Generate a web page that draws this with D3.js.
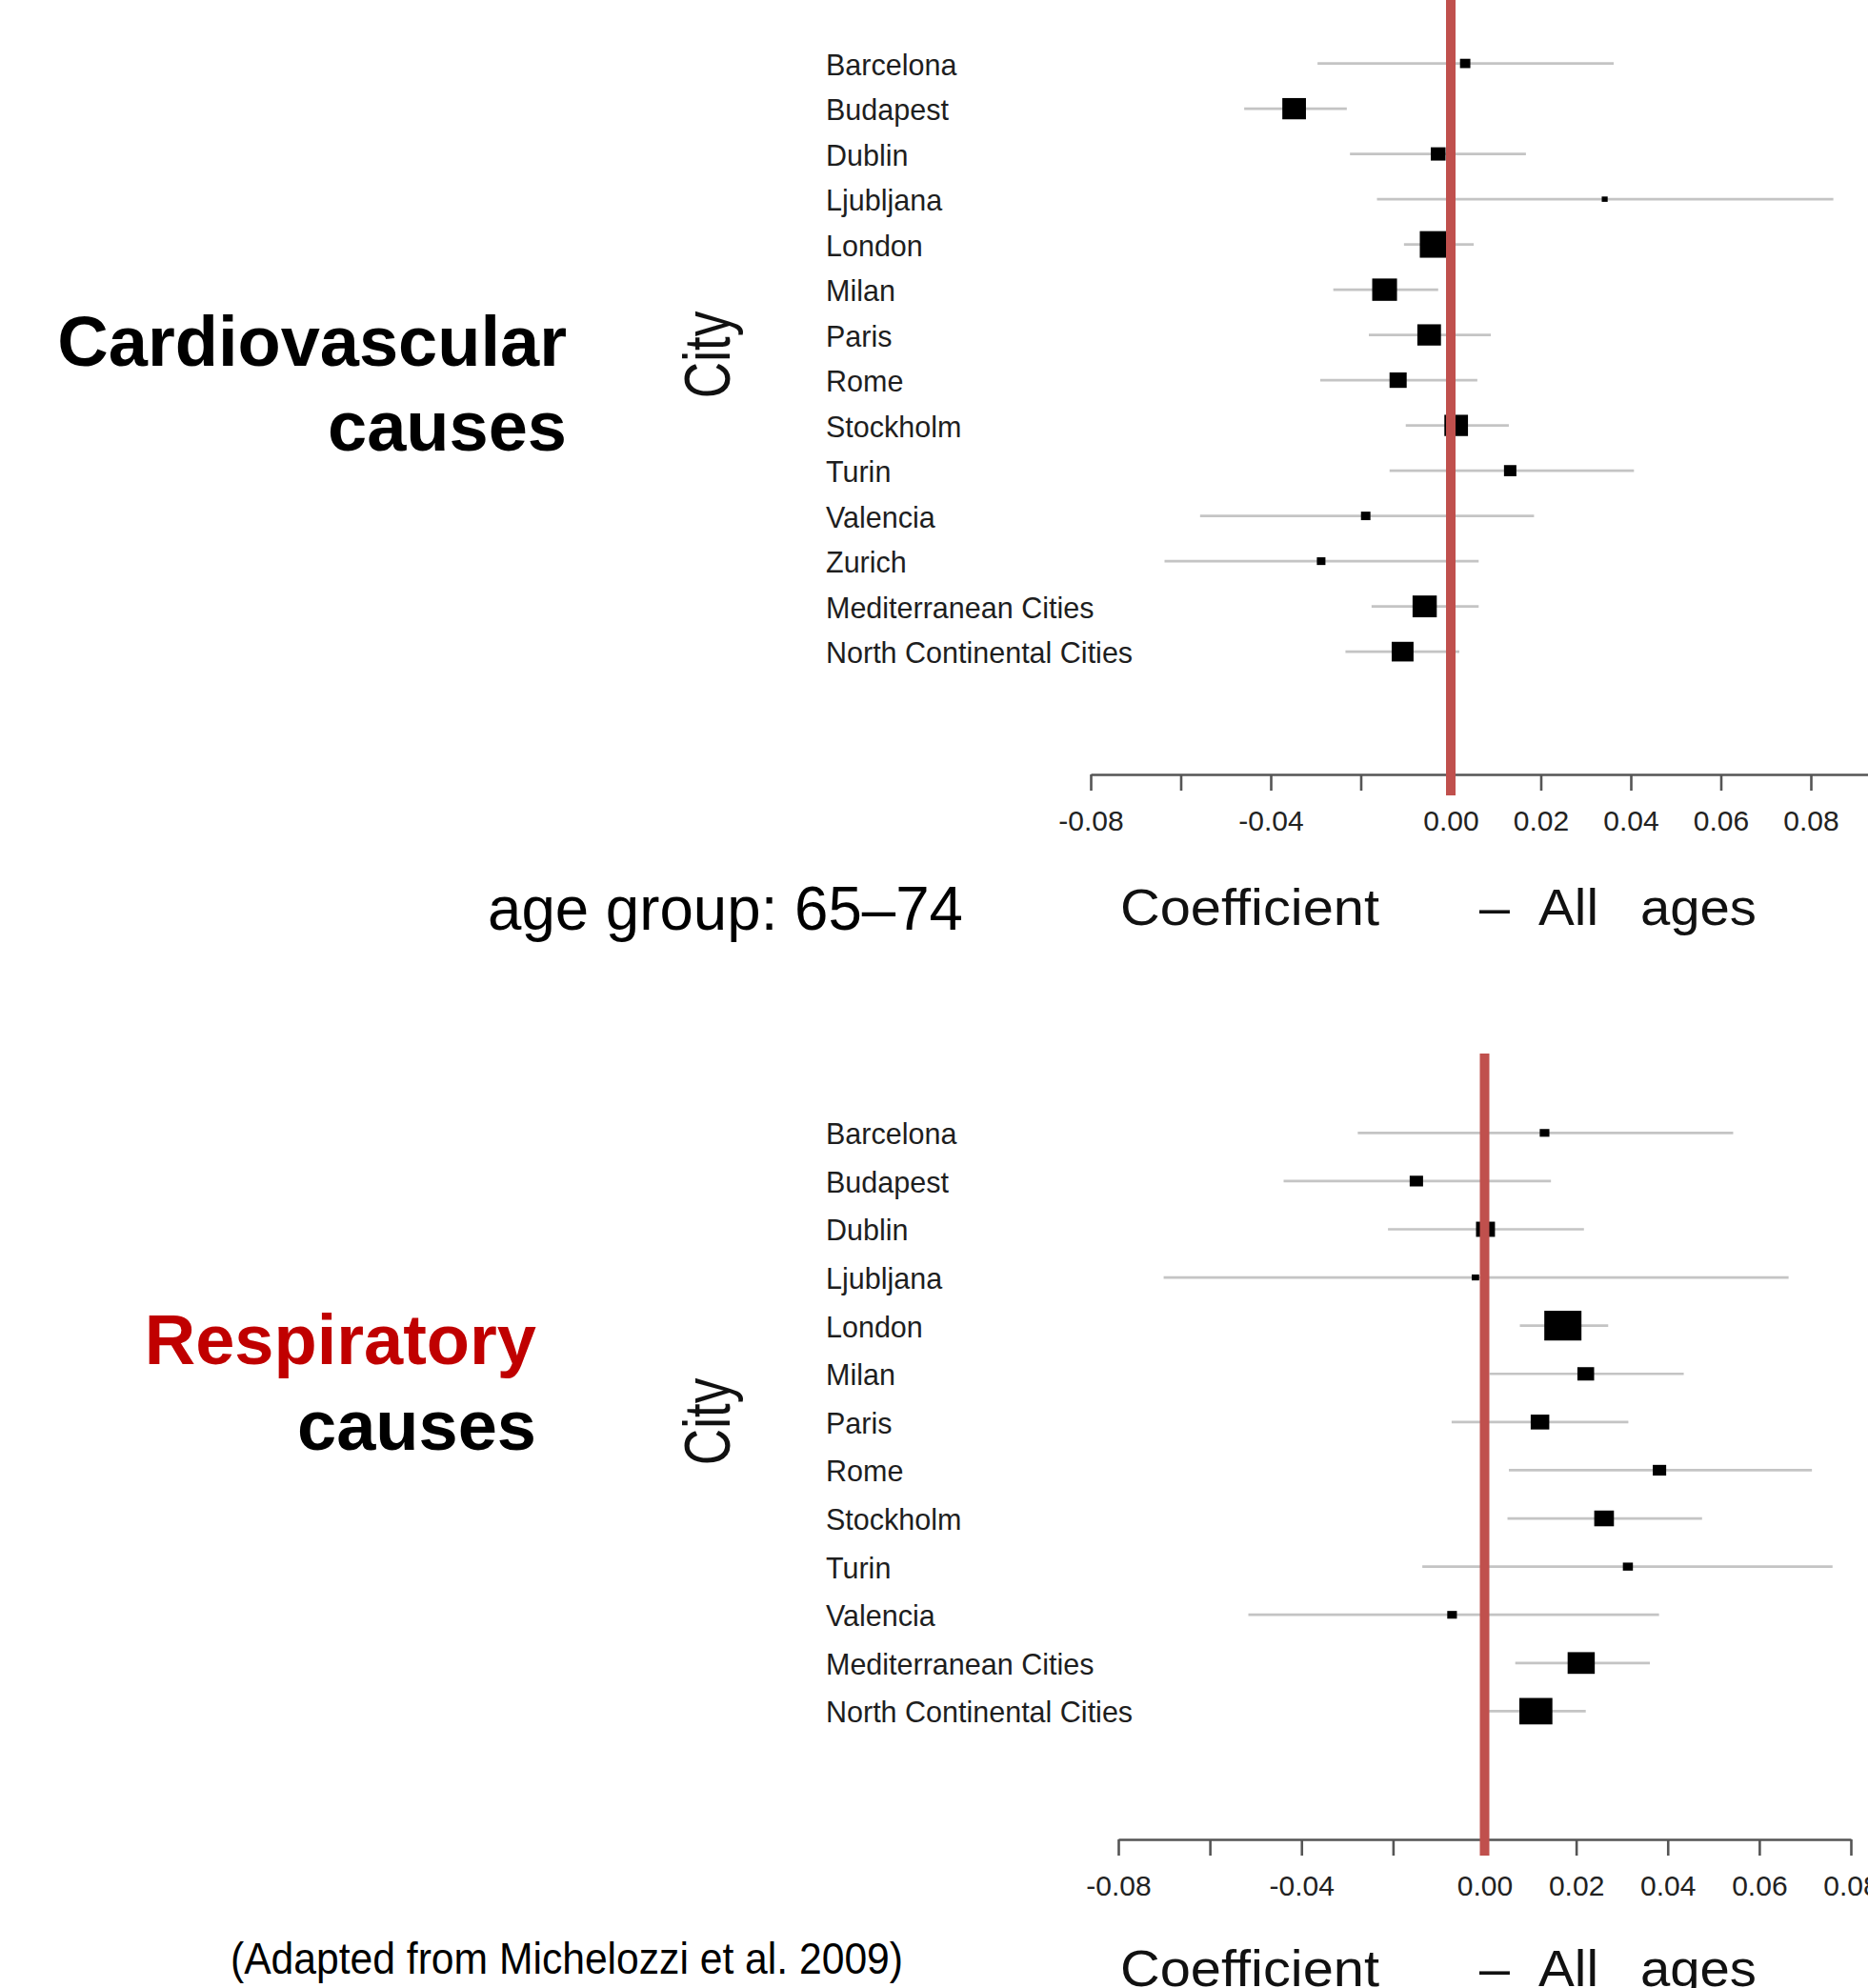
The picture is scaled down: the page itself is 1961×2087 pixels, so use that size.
<!DOCTYPE html>
<html>
<head>
<meta charset="utf-8">
<script src="https://cdn.jsdelivr.net/npm/d3@7"></script>
<style>
  html, body { margin: 0; padding: 0; background: #fff; }
  svg { display: block; }
</style>
</head>
<body>
<div id="chart"></div>
<script>
// ---- data ----
const cardioCities = ["Barcelona", "Budapest", "Dublin", "Ljubljana", "London", "Milan", "Paris",
  "Rome", "Stockholm", "Turin", "Valencia", "Zurich", "Mediterranean Cities", "North Continental Cities"];
const cardioEst = [0.0032, -0.0348, -0.0028, 0.0342, -0.0036, -0.0147, -0.0048, -0.0117, 0.0012, 0.0132, -0.0189, -0.0288, -0.0058, -0.0107];
const cardioLo  = [-0.0296, -0.0459, -0.0224, -0.0164, -0.0104, -0.0261, -0.0182, -0.0290, -0.0100, -0.0136, -0.0557, -0.0636, -0.0176, -0.0234];
const cardioHi  = [0.0362, -0.0231, 0.0167, 0.0850, 0.0051, -0.0028, 0.0089, 0.0059, 0.0129, 0.0407, 0.0185, 0.0062, 0.0062, 0.0019];
// relative weight of each city (box size), London = 100
const cardioWeight = [35, 80, 50, 20, 100, 84, 80, 58, 80, 42, 32, 29, 82, 74];

const respCities = ["Barcelona", "Budapest", "Dublin", "Ljubljana", "London", "Milan", "Paris",
  "Rome", "Stockholm", "Turin", "Valencia", "Mediterranean Cities", "North Continental Cities"];
const respEst = [0.0131, -0.0149, 0.0002, -0.0020, 0.0171, 0.0221, 0.0121, 0.0382, 0.0261, 0.0313, -0.0071, 0.0211, 0.0112];
const respLo  = [-0.0277, -0.0439, -0.0211, -0.0701, 0.0077, 0.0011, -0.0072, 0.0053, 0.0050, -0.0136, -0.0516, 0.0067, 0.0005];
const respHi  = [0.0543, 0.0145, 0.0217, 0.0664, 0.0270, 0.0435, 0.0314, 0.0715, 0.0475, 0.0760, 0.0381, 0.0361, 0.0221];
const respWeight = [26, 36, 51, 20, 100, 45, 50, 36, 53, 27, 26, 73, 89];

const tickValues = [-0.08, -0.06, -0.04, -0.02, 0, 0.02, 0.04, 0.06, 0.08];
const tickLabels = ["-0.08", "", "-0.04", "", "0.00", "0.02", "0.04", "0.06", "0.08"];
const refValue = 0;

// ---- layout ----
const W = 1961, H = 2087;
const FONT = "'Liberation Sans', Arial, Helvetica, sans-serif";

const svg = d3.select("#chart").append("svg")
    .attr("width", W).attr("height", H)
    .attr("viewBox", [0, 0, W, H]);
svg.append("rect").attr("width", W).attr("height", H).attr("fill", "#fff");

const panels = [
  {
    rows: cardioCities.map((c, i) => ({ city: c, est: cardioEst[i], lo: cardioLo[i], hi: cardioHi[i], w: cardioWeight[i] })),
    yRange: [66.6, 684.1], xDomain: [-0.08, 0.10], xRange: [1145, 1995.5],
    axisY: 813, refTop: 0, refBottom: 835, boxMax: 31, aspect: 0.9, labelDy: 12,
    title: ["Cardiovascular", "causes"], titleColor: ["#000", "#000"],
    titleX: 595, titleY: [384, 473], cityY: 372.5, xTitleY: 971
  },
  {
    rows: respCities.map((c, i) => ({ city: c, est: respEst[i], lo: respLo[i], hi: respHi[i], w: respWeight[i] })),
    yRange: [1189.3, 1796.4], xDomain: [-0.08, 0.08], xRange: [1174, 1943],
    axisY: 1931, refTop: 1106, refBottom: 1948, boxMax: 39, aspect: 0.8, labelDy: 12,
    title: ["Respiratory", "causes"], titleColor: ["#c00000", "#000"],
    titleX: 563, titleY: [1432, 1522], cityY: 1492.5, xTitleY: 2085
  }
];

panels.forEach(p => {
  const g = svg.append("g");

  const x = d3.scaleLinear().domain(p.xDomain).range(p.xRange);
  const y = d3.scalePoint().domain(p.rows.map(d => d.city)).range(p.yRange);
  const box = d3.scaleLinear().domain([0, 100]).range([0, p.boxMax]);

  // city labels
  g.selectAll("text.city").data(p.rows).join("text")
      .attr("class", "city")
      .attr("x", 867)
      .attr("y", d => y(d.city) + p.labelDy)
      .attr("font-family", FONT).attr("font-size", 30.5).attr("fill", "#1e1e1e")
      .text(d => d.city);

  // confidence intervals
  g.selectAll("line.ci").data(p.rows).join("line")
      .attr("class", "ci")
      .attr("x1", d => x(d.lo)).attr("x2", d => x(d.hi))
      .attr("y1", d => y(d.city)).attr("y2", d => y(d.city))
      .attr("stroke", "#c4c4c4").attr("stroke-width", 2.7);

  // point estimates, box size ~ weight
  g.selectAll("rect.est").data(p.rows).join("rect")
      .attr("class", "est")
      .attr("x", d => x(d.est) - box(d.w) / 2)
      .attr("y", d => y(d.city) - box(d.w) * p.aspect / 2)
      .attr("width", d => box(d.w))
      .attr("height", d => box(d.w) * p.aspect)
      .attr("fill", "#000");

  // x axis
  const axis = d3.axisBottom(x)
      .tickValues(tickValues)
      .tickFormat((d, i) => tickLabels[i])
      .tickSize(17).tickSizeOuter(0).tickPadding(21);
  const ax = g.append("g").attr("transform", `translate(0,${p.axisY})`).call(axis);
  ax.attr("font-family", FONT).attr("font-size", 30);
  ax.select(".domain").attr("stroke", "#555").attr("stroke-width", 2.6);
  ax.selectAll(".tick line").attr("stroke", "#555").attr("stroke-width", 2.6);
  ax.selectAll(".tick text").attr("fill", "#222");

  // reference line at zero (drawn over the boxes)
  g.append("line")
      .attr("x1", x(refValue)).attr("x2", x(refValue))
      .attr("y1", p.refTop).attr("y2", p.refBottom)
      .attr("stroke", "#c0504d").attr("stroke-width", 10);

  // y title "City"
  g.append("text")
      .attr("transform", `translate(766,${p.cityY}) scale(1.3,1) rotate(-90)`)
      .attr("text-anchor", "middle")
      .attr("font-family", FONT).attr("font-size", 53).attr("fill", "#111")
      .text("City");

  // x title, spread out like the original
  const xt = [
    { t: "Coefficient", x: 1176, len: 272 },
    { t: "\u2013", x: 1553, len: 32 },
    { t: "All", x: 1615, len: 63 },
    { t: "ages", x: 1722, len: 122 }
  ];
  g.selectAll("text.xt").data(xt).join("text")
      .attr("class", "xt")
      .attr("x", d => d.x).attr("y", p.xTitleY)
      .attr("textLength", d => d.len).attr("lengthAdjust", "spacingAndGlyphs")
      .attr("font-family", FONT).attr("font-size", 53).attr("fill", "#111")
      .text(d => d.t);

  // panel title
  g.selectAll("text.ptitle").data(p.title).join("text")
      .attr("class", "ptitle")
      .attr("x", p.titleX).attr("y", (d, i) => p.titleY[i])
      .attr("text-anchor", "end")
      .attr("font-family", FONT).attr("font-weight", "bold").attr("font-size", 74)
      .attr("fill", (d, i) => p.titleColor[i])
      .text(d => d);
});

// middle caption and source note
svg.append("text")
    .attr("x", 512).attr("y", 976)
    .attr("textLength", 499).attr("lengthAdjust", "spacingAndGlyphs")
    .attr("font-family", FONT).attr("font-size", 64).attr("fill", "#000")
    .text("age group: 65\u201374");

svg.append("text")
    .attr("x", 242).attr("y", 2072)
    .attr("textLength", 706).attr("lengthAdjust", "spacingAndGlyphs")
    .attr("font-family", FONT).attr("font-size", 46).attr("fill", "#000")
    .text("(Adapted from Michelozzi et al. 2009)");
</script>
</body>
</html>
